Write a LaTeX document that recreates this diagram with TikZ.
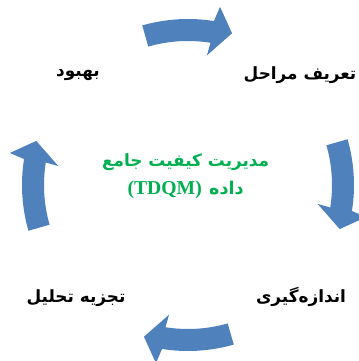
\documentclass[tikz,border=0pt]{standalone}
\usepackage{fontspec}
\usetikzlibrary{positioning}
\newfontfamily\farsi[Script=Arabic]{DejaVu Sans}
\newfontfamily\latinserif{Liberation Serif}
\TeXXeTstate=1
\definecolor{arrowblue}{RGB}{79,129,189}
\definecolor{titlegreen}{RGB}{0,176,80}

\begin{document}
\begin{tikzpicture}[
    stage/.style={font=\farsi\bfseries\fontsize{12}{14}\selectfont, text=black},
    title/.style={font=\bfseries\fontsize{14}{20}\selectfont, text=titlegreen, align=center},
    cycarrow/.pic={
      \fill[arrowblue] (106:4.15) arc[start angle=106, end angle=81, radius=4.15]
        -- (79.8:4.525) -- (73.8:3.95) -- (81.7:3.275) -- (81:3.6)
        arc[start angle=81, end angle=106, radius=3.6] -- cycle;
    }
]

\useasboundingbox (0,0) rectangle (8.975,9.025);
\clip (0,0) rectangle (8.975,9.025);

% Cycle centre
\coordinate (hub) at (4.7,4.4);

% Arrows, clockwise
\pic at (hub) {cycarrow};
\pic[rotate=-90] at (hub) {cycarrow};
\pic[rotate=180] at (hub) {cycarrow};
\pic[rotate=90] at (hub) {cycarrow};

% Stages
\node[stage] (define) at (7.5,7.15) {\beginR تعریف مراحل\endR};
\node[stage] (measure) at (7.525,1.6) {\beginR اندازه‌گیری\endR};
\node[stage] (analyse) at (1.9,1.58) {\beginR تجزیه تحلیل\endR};
\node[stage] (improve) at (1.95,7.15) {\beginR بهبود\endR};

% Title
\node[title] (tdqm) at (4.64,4.63) {{\farsi\fontsize{12}{20}\selectfont\beginR مدیریت کیفیت جامع\endR}\\{\latinserif (TDQM)} {\farsi\fontsize{12.5}{20}\selectfont\beginR داده\endR}};

\end{tikzpicture}
\end{document}
